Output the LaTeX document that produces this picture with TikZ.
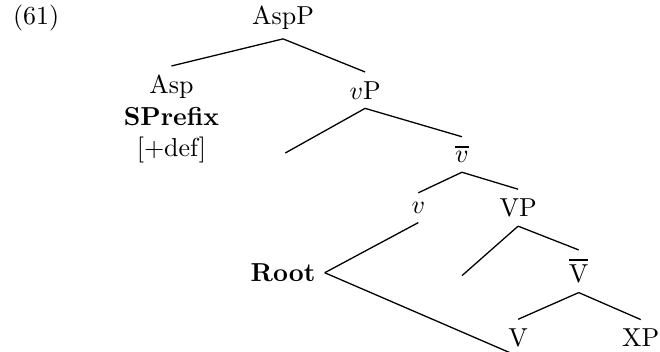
\documentclass[tikz,border=0pt]{standalone}
\usepackage{amsmath}
\newcommand{\xbar}[1]{\vbox{\hrule height 0.8pt\kern1.4pt\hbox{#1}}}

\begin{document}
\begin{tikzpicture}[line width=0.5pt]
\useasboundingbox (0,0) rectangle (8.93,4.75);

  \node (ex) at (0.49,4.51) {(61)};

  \node (asppp) at (3.83,4.51) {AspP};
  \node[align=center] (asp) at (2.32,3.14) {Asp\\\textbf{SPrefix}\\{}[+def]};
  \node (vp) at (4.94,3.53) {$v$P};
  \coordinate (spec1) at (3.86,2.68);
  \node (vbar) at (6.25,2.66) {\xbar{$v$}};
  \node (v) at (5.66,1.94) {$v$};
  \node (bigvp) at (7.01,1.94) {VP};
  \node (root) at (3.83,1.06) {\textbf{Root}};
  \coordinate (spec2) at (6.25,1.02);
  \node (bigvbar) at (7.83,1.08) {\xbar{V}};
  \node (bigv) at (7.01,0.18) {V};
  \node (xp) at (8.67,0.18) {XP};

  \draw (asppp.south)--(asp.north);
  \draw (asppp.south)--(vp.north);
  \draw (vp.south)--(spec1);
  \draw (vp.south)--(vbar.north);
  \draw (vbar.south)--(v.north);
  \draw (vbar.south)--(bigvp.north);
  \draw (v.south)--(root.east);
  \draw (root.east)--(bigv.south);
  \draw (bigvp.south)--(spec2);
  \draw (bigvp.south)--(bigvbar.north);
  \draw (bigvbar.south)--(bigv.north);
  \draw (bigvbar.south)--(xp.north);

\end{tikzpicture}
\end{document}
